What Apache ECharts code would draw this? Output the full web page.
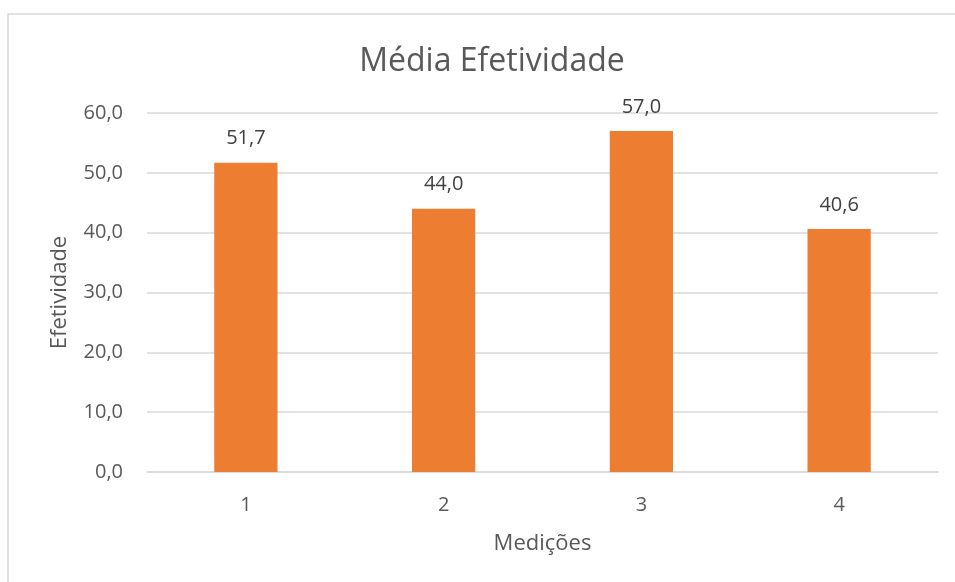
<!DOCTYPE html>
<html><head><meta charset="utf-8">
<script src="https://cdn.jsdelivr.net/npm/echarts@6/dist/echarts.min.js"></script>
<style>html,body{margin:0;padding:0;background:#fff}#c{width:955px;height:582px}</style>
</head><body><div id="c"></div>
<script>
const categories = ['1', '2', '3', '4'];
const values = [51.7, 44.0, 57.0, 40.6];
const chartTitle = 'Média Efetividade';
const xName = 'Medições';
const yName = 'Efetividade';

const chart = echarts.init(document.getElementById('c'));
const font = '"Open Sans", "Noto Sans", sans-serif';
chart.setOption({
  animation: false,
  graphic: [{
    type: 'rect', shape: {x: 8, y: 14, width: 960, height: 600},
    style: {fill: 'none', stroke: '#D9D9D9', lineWidth: 1.5}, silent: true
  }],
  title: {
    text: chartTitle, left: 487, textAlign: 'center', top: 41,
    textStyle: {fontFamily: font, fontSize: 32, fontWeight: 'normal', color: '#595959'}
  },
  grid: {left: 147, right: 17, top: 113, bottom: 110},
  xAxis: {
    type: 'category', data: categories,
    name: xName, nameLocation: 'middle', nameGap: 61,
    nameTextStyle: {fontFamily: font, fontSize: 22, color: '#595959'},
    axisLine: {lineStyle: {color: '#D9D9D9', width: 1.5}},
    axisTick: {show: false},
    axisLabel: {fontFamily: font, fontSize: 20, color: '#595959', margin: 23}
  },
  yAxis: {
    type: 'value', min: 0, max: 60, interval: 10,
    name: yName, nameLocation: 'middle', nameGap: 76,
    nameTextStyle: {fontFamily: font, fontSize: 22, color: '#595959'},
    axisLine: {show: false}, axisTick: {show: false},
    splitLine: {lineStyle: {color: '#D9D9D9', width: 1.5}},
    axisLabel: {fontFamily: font, fontSize: 20, color: '#595959', margin: 24,
      formatter: v => v.toFixed(1).replace('.', ',')}
  },
  series: [{
    type: 'bar', data: values, barWidth: '32%',
    itemStyle: {color: '#ED7D31'},
    label: {show: true, position: 'top', distance: 14, fontFamily: font, fontSize: 20, color: '#404040',
      formatter: p => p.value.toFixed(1).replace('.', ',')}
  }]
});
</script></body></html>
